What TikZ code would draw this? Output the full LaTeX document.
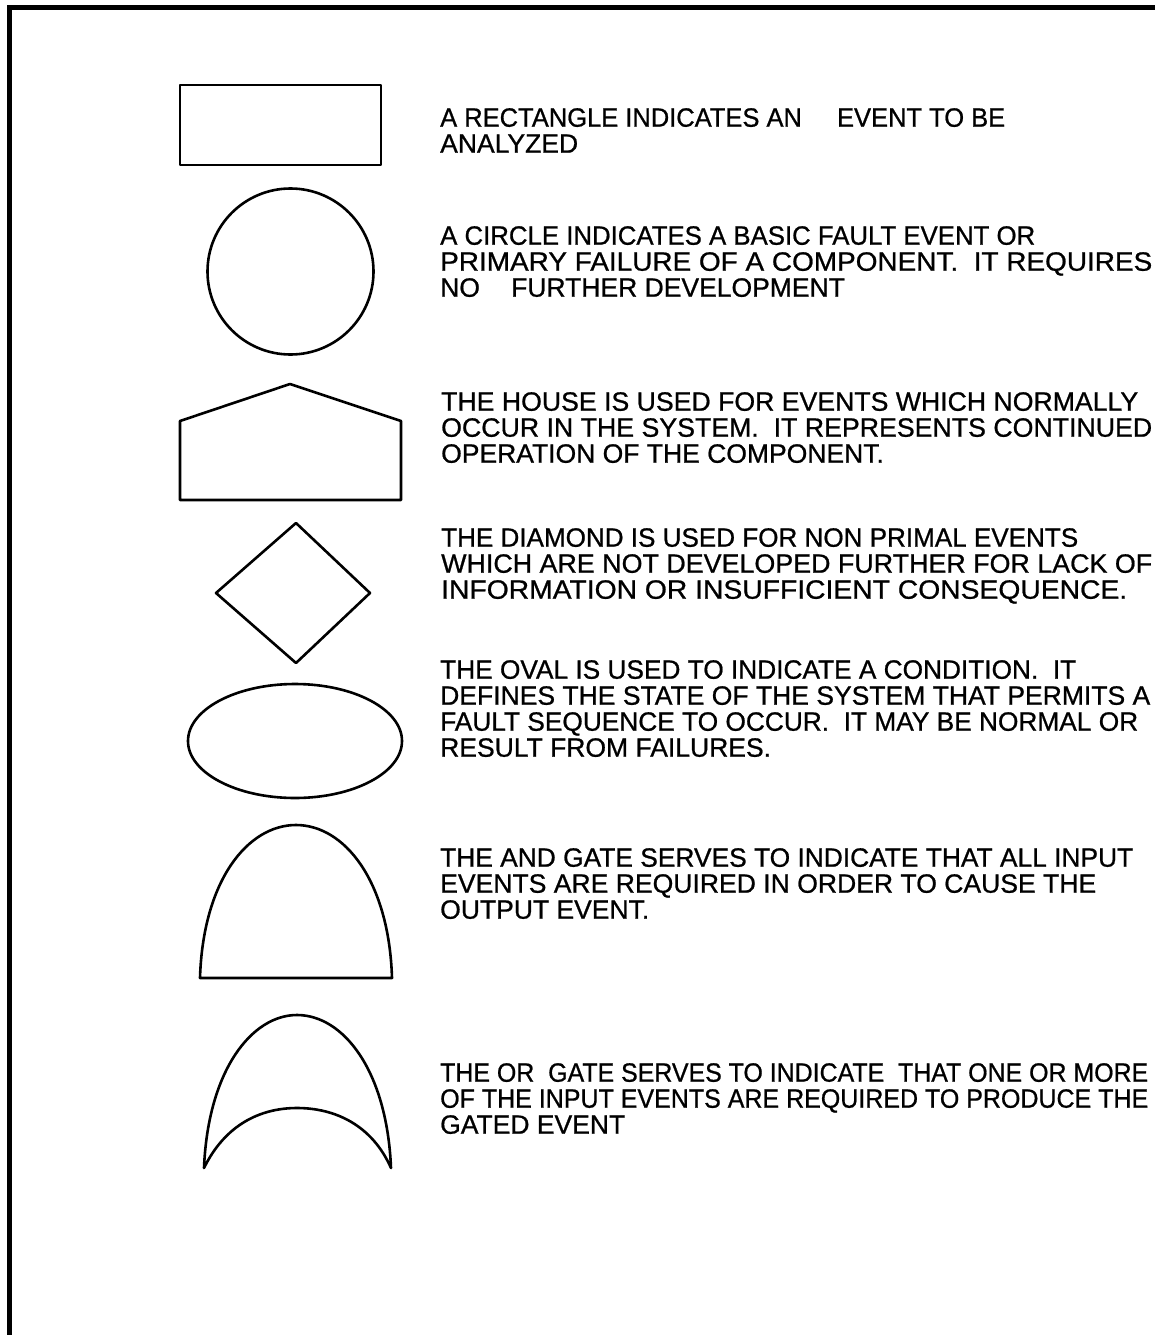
\documentclass[tikz,border=0pt]{standalone}
\usepackage{fontspec}
\usepackage{graphicx}
\setmainfont{Liberation Sans}
\newfontfamily\descfont[FakeBold=0.8]{Liberation Sans}
\newcommand\fw[2]{\resizebox{#1pt}{\height}{#2}}
\begin{document}
\begin{tikzpicture}[x=1pt,y=-1pt,
  shp/.style={draw=black,line width=2.6pt,line join=round},
  desc/.style={anchor=north west,inner sep=0pt,align=left,
    font=\descfont\fontsize{26.5}{26}\selectfont}]
\useasboundingbox (0,0) rectangle (1155,1335);
% frame (top and left edges only)
\draw[line width=4.5pt] (9.5,1340) -- (9.5,7.5) -- (1160,7.5);
% symbols
\draw[shp] (180,85) rectangle (381,165);
\draw[shp] (290.5,271.5) circle[radius=83];
\draw[shp] (180,500) -- (180,421) -- (290,384) -- (401,421) -- (401,500) -- cycle;
\draw[shp] (296,523) -- (370,593) -- (296,663) -- (216,593) -- cycle;
\draw[shp] (295,741) ellipse[x radius=107,y radius=57];
\draw[shp] (200,978) .. controls (203,880) and (248,825) .. (296,825)
  .. controls (344,825) and (389,880) .. (392,978) -- cycle;
\draw[shp] (204,1168) .. controls (208,1070) and (252,1015) .. (297,1015)
  .. controls (343,1015) and (387,1070) .. (391,1168)
  .. controls (372,1125) and (335,1108) .. (297,1108)
  .. controls (260,1108) and (225,1125) .. (204,1168) -- cycle;
% descriptions
\node[desc] (trect) at (440,108) {\fw{565}{A RECTANGLE INDICATES AN\hspace{1.1em} EVENT TO BE}\\ANALYZED};
\node[desc] (tcirc) at (440,226) {\fw{595}{A CIRCLE INDICATES A BASIC FAULT EVENT OR}\\\fw{712}{PRIMARY FAILURE OF A COMPONENT.\ \ IT REQUIRES}\\NO\hspace{0.9em} FURTHER DEVELOPMENT};
\node[desc] (thouse) at (441,392) {\fw{697}{THE HOUSE IS USED FOR EVENTS WHICH NORMALLY}\\\fw{711}{OCCUR IN THE SYSTEM.\ \ IT REPRESENTS CONTINUED}\\OPERATION OF THE COMPONENT.};
\node[desc] (tdiam) at (441,528) {\fw{637}{THE DIAMOND IS USED FOR NON PRIMAL EVENTS}\\\fw{711}{WHICH ARE NOT DEVELOPED FURTHER FOR LACK OF}\\\fw{686}{INFORMATION OR INSUFFICIENT CONSEQUENCE.}};
\node[desc] (toval) at (440,660) {\fw{636}{THE OVAL IS USED TO INDICATE A CONDITION.\ \ IT}\\\fw{710}{DEFINES THE STATE OF THE SYSTEM THAT PERMITS A}\\\fw{698}{FAULT SEQUENCE TO OCCUR.\ \ IT MAY BE NORMAL OR}\\RESULT FROM FAILURES.};
\node[desc] (tand) at (440,848) {\fw{693}{THE AND GATE SERVES TO INDICATE THAT ALL INPUT}\\\fw{656}{EVENTS ARE REQUIRED IN ORDER TO CAUSE THE}\\OUTPUT EVENT.};
\node[desc] (tor) at (440,1063) {\fw{708}{THE OR\ \ GATE SERVES TO INDICATE\ \ THAT ONE OR MORE}\\\fw{708}{OF THE INPUT EVENTS ARE REQUIRED TO PRODUCE THE}\\GATED EVENT};
\end{tikzpicture}
\end{document}
